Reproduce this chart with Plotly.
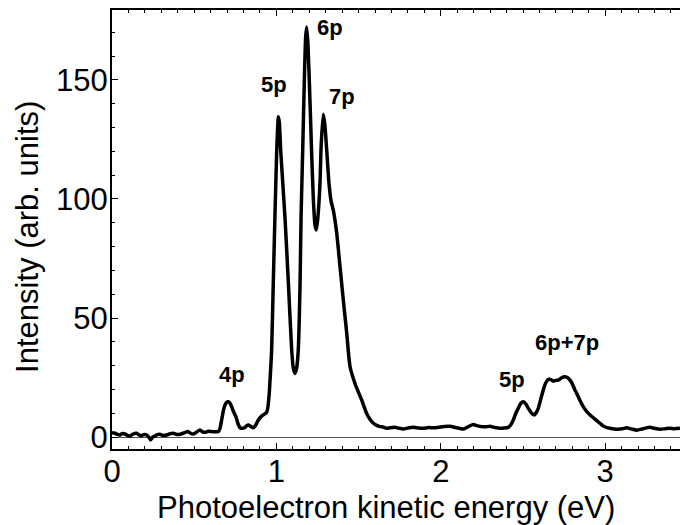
import plotly.graph_objects as go

energy = [0.000, 0.018, 0.033, 0.048, 0.063, 0.079, 0.094, 0.109, 0.125, 0.150,
          0.165, 0.180, 0.196, 0.211, 0.225, 0.235, 0.248, 0.260, 0.275, 0.290,
          0.310, 0.333, 0.353, 0.373, 0.394, 0.414, 0.440, 0.464, 0.480, 0.495,
          0.515, 0.535, 0.550, 0.566, 0.585, 0.606, 0.625, 0.647, 0.657, 0.667,
          0.677, 0.687, 0.697, 0.708, 0.718, 0.728, 0.741, 0.754, 0.766, 0.779,
          0.793, 0.806, 0.818, 0.829, 0.845, 0.860, 0.875, 0.890, 0.910, 0.925,
          0.941, 0.948, 0.953, 0.957, 0.963, 0.971, 0.981, 0.991, 1.002, 1.007,
          1.012, 1.018, 1.026, 1.052, 1.073, 1.093, 1.103, 1.113, 1.123, 1.133,
          1.144, 1.150, 1.160, 1.170, 1.178, 1.184, 1.192, 1.204, 1.215, 1.225,
          1.235, 1.243, 1.252, 1.265, 1.272, 1.285, 1.295, 1.306, 1.320, 1.333,
          1.346, 1.367, 1.387, 1.407, 1.428, 1.448, 1.478, 1.519, 1.549, 1.570,
          1.590, 1.610, 1.630, 1.650, 1.671, 1.690, 1.721, 1.745, 1.772, 1.800,
          1.833, 1.865, 1.894, 1.925, 1.954, 1.985, 2.020, 2.056, 2.095, 2.137,
          2.170, 2.198, 2.220, 2.238, 2.270, 2.300, 2.330, 2.360, 2.385, 2.410,
          2.425, 2.441, 2.456, 2.471, 2.487, 2.502, 2.517, 2.532, 2.550, 2.569,
          2.580, 2.593, 2.608, 2.623, 2.638, 2.654, 2.670, 2.684, 2.700, 2.715,
          2.735, 2.755, 2.775, 2.796, 2.815, 2.827, 2.843, 2.867, 2.888, 2.908,
          2.928, 2.948, 2.970, 2.989, 3.010, 3.029, 3.055, 3.080, 3.105, 3.131,
          3.160, 3.192, 3.230, 3.272, 3.300, 3.333, 3.365, 3.394, 3.420, 3.455]

intensity = [1.9, 1.7, 1.2, 1.0, 1.6, 1.4, 0.8, 0.5, 1.3, 1.7,
             1.0, 0.7, 1.2, 1.0, 0.0, -1.1, 0.2, 0.5, 1.1, 1.3,
             0.8, 1.0, 1.5, 1.7, 1.2, 1.3, 1.9, 2.4, 1.6, 1.4,
             2.2, 3.1, 2.3, 2.1, 2.5, 2.4, 2.3, 2.4, 3.8, 7.3,
             11.0, 13.5, 14.7, 14.9, 14.3, 12.8, 10.5, 8.6, 5.8, 4.0,
             3.8, 4.0, 4.8, 5.2, 4.5, 4.0, 5.2, 7.3, 8.9, 9.6,
             10.5, 12.5, 15.6, 19.0, 26.0, 36.6, 64.6, 92.5, 120.5, 129.0,
             134.5, 132.0, 120.5, 92.5, 64.6, 36.6, 29.0, 26.8, 29.0, 36.6,
             64.6, 92.5, 120.5, 150.0, 168.0, 172.2, 165.0, 141.5, 118.0, 99.5,
             89.0, 87.0, 92.0, 106.5, 122.0, 135.6, 131.0, 120.5, 106.5, 99.0,
             95.3, 85.6, 71.6, 57.6, 43.6, 29.6, 22.6, 15.6, 10.0, 7.5,
             5.9, 5.0, 4.5, 4.3, 3.8, 4.0, 4.2, 3.8, 3.5, 3.9,
             4.2, 3.9, 3.8, 4.1, 4.0, 4.2, 4.5, 4.6, 4.0, 3.5,
             4.6, 5.4, 4.9, 4.6, 4.4, 4.6, 4.1, 3.8, 3.9, 4.2,
             5.2, 7.3, 10.0, 12.2, 14.3, 14.9, 14.0, 12.2, 10.3, 9.4,
             10.3, 12.2, 16.0, 19.8, 22.8, 24.3, 24.2, 23.6, 23.9, 24.0,
             25.0, 25.4, 24.8, 23.0, 20.0, 18.4, 16.0, 12.8, 10.8, 9.4,
             8.2, 7.0, 5.8, 4.7, 4.1, 3.8, 3.5, 3.4, 3.6, 4.0,
             3.5, 3.0, 3.6, 4.2, 3.8, 3.4, 3.6, 3.8, 3.6, 3.8]

peak_labels = ["4p", "5p", "6p", "7p", "5p", "6p+7p"]
peak_label_x = [0.728, 0.984, 1.328, 1.397, 2.431, 2.768]
peak_label_y = [26.3, 148.0, 172.1, 143.0, 24.2, 39.6]

x_ticks = [0, 1, 2, 3]
y_ticks = [0, 50, 100, 150]
x_title = "Photoelectron kinetic energy (eV)"
y_title = "Intensity (arb. units)"

FONT = "Liberation Sans, Arial, sans-serif"
FS = 31

fig = go.Figure()
fig.add_trace(go.Scatter(
    x=energy, y=intensity, mode="lines",
    line=dict(color="black", width=3.5, shape="spline", smoothing=0.6),
    showlegend=False, hoverinfo="skip"))

for t, lx, ly in zip(peak_labels, peak_label_x, peak_label_y):
    fig.add_annotation(x=lx, y=ly, text="<b>" + t + "</b>", showarrow=False,
                       xanchor="center", yanchor="middle",
                       font=dict(family=FONT, size=22, color="black"))

# axis titles
fig.add_annotation(xref="paper", yref="paper", x=0.482, y=-0.133,
                   text=x_title, showarrow=False, xanchor="center", yanchor="middle",
                   borderpad=0,
                   font=dict(family=FONT, size=FS, color="black"))
fig.add_annotation(xref="paper", yref="paper", x=-0.148, y=0.483,
                   text=y_title, showarrow=False, xanchor="center", yanchor="middle",
                   textangle=-90, borderpad=0,
                   font=dict(family=FONT, size=FS, color="black"))

fig.update_layout(
    width=680, height=525,
    margin=dict(l=112, r=0, t=10, b=76),
    plot_bgcolor="white", paper_bgcolor="white",
    font=dict(family=FONT, size=FS, color="black"),
    xaxis=dict(
        range=[0, 3.455], tickvals=x_ticks, ticktext=[str(v) for v in x_ticks],
        ticks="inside", ticklen=6, tickwidth=1.2, tickcolor="black",
        minor=dict(dtick=0.1, ticks="inside", ticklen=3, tickwidth=1, tickcolor="black"),
        showline=True, linecolor="black", linewidth=2, mirror="ticks",
        showgrid=False, zeroline=False,
        tickfont=dict(size=FS), ticklabelstandoff=-6,
    ),
    yaxis=dict(
        range=[-4.9, 179.3], tickvals=y_ticks, ticktext=[str(v) for v in y_ticks],
        ticks="inside", ticklen=6, tickwidth=1.2, tickcolor="black",
        minor=dict(dtick=10, ticks="inside", ticklen=3, tickwidth=1, tickcolor="black"),
        showline=True, linecolor="black", linewidth=2, mirror=False,
        showgrid=False, zeroline=True, zerolinecolor="#555555", zerolinewidth=1.2,
        tickfont=dict(size=FS), ticklabelstandoff=-4,
    ),
)

fig.write_html("out.html")
